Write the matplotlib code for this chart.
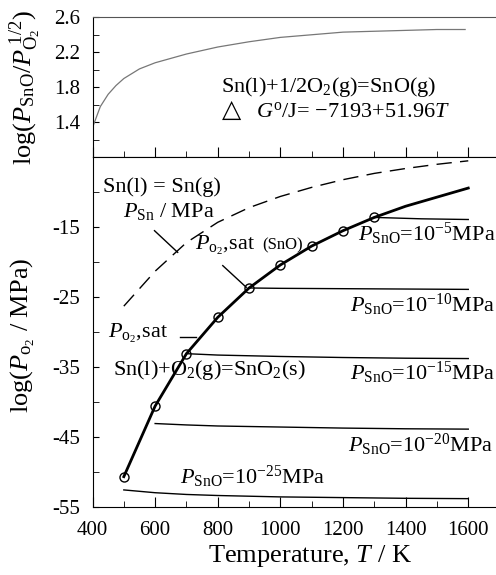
import numpy as np
import matplotlib
matplotlib.use("Agg")
from matplotlib import pyplot as plt
from matplotlib.ticker import MultipleLocator, FixedLocator

plt.rcParams['font.family'] = ['Liberation Serif', 'DejaVu Serif']
plt.rcParams['mathtext.fontset'] = 'custom'
plt.rcParams['mathtext.rm'] = 'Liberation Serif'
plt.rcParams['mathtext.it'] = 'Liberation Serif:italic'
plt.rcParams['mathtext.bf'] = 'Liberation Serif:bold'
plt.rcParams['mathtext.fallback'] = 'stix'
plt.rcParams['axes.unicode_minus'] = False

# top panel: log(P_SnO / P_O2^1/2) vs T
t_top = [400, 425, 450, 475, 500, 550, 600, 700, 800, 900, 1000, 1100, 1200, 1300, 1400, 1500, 1590]
k_top = [1.34, 1.58, 1.72, 1.82, 1.90, 2.01, 2.08, 2.18, 2.26, 2.32, 2.37, 2.40, 2.43, 2.44, 2.45, 2.46, 2.46]

# Sn(l) = Sn(g) vapour pressure (dashed)
t_sn = [500, 600, 700, 800, 900, 1000, 1100, 1200, 1300, 1400, 1500, 1600]
p_sn = [-26.3, -21.3, -17.2, -14.3, -12.2, -10.6, -9.3, -8.2, -7.3, -6.6, -6.0, -5.5]

# Po2,sat curve (bold) and the marked points
t_sat = [500, 600, 700, 800, 900, 1000, 1100, 1200, 1300, 1400, 1500, 1600]
p_sat = [-50.7, -40.6, -33.1, -27.9, -23.7, -20.4, -17.7, -15.5, -13.6, -12.0, -10.7, -9.4]
t_pts = [500, 600, 700, 800, 900, 1000, 1100, 1200, 1300]
p_pts = [-50.7, -40.6, -33.1, -27.9, -23.7, -20.4, -17.7, -15.5, -13.6]

# PSnO isobars
t_iso5 = [1300, 1450, 1600]
p_iso5 = [-13.6, -13.8, -13.9]
t_iso10 = [900, 1000, 1200, 1400, 1600]
p_iso10 = [-23.7, -23.75, -23.8, -23.85, -23.9]
t_iso15 = [700, 800, 1000, 1200, 1400, 1600]
p_iso15 = [-33.1, -33.3, -33.5, -33.65, -33.75, -33.8]
t_iso20 = [600, 700, 800, 1000, 1200, 1400, 1600]
p_iso20 = [-43.1, -43.3, -43.45, -43.6, -43.75, -43.85, -43.9]
t_iso25 = [500, 600, 700, 800, 1000, 1200, 1400, 1600]
p_iso25 = [-52.6, -53.0, -53.25, -53.4, -53.6, -53.7, -53.8, -53.85]

iso_labels = ["-5", "-10", "-15", "-20", "-25"]

fig = plt.figure(figsize=(4.96, 5.75), dpi=100)
ax_top = fig.add_axes([0.1865, 0.7264, 0.8125, 0.2436])
ax = fig.add_axes([0.1865, 0.1188, 0.8125, 0.6076])

# ---- top panel
ax_top.plot(t_top, k_top, color="#777777", lw=0.9)
ax_top.set_xlim(400, 1687)
ax_top.set_ylim(1.0, 2.6)
ax_top.xaxis.set_major_locator(MultipleLocator(200))
ax_top.xaxis.set_minor_locator(MultipleLocator(100))
ax_top.yaxis.set_major_locator(FixedLocator([1.4, 1.8, 2.2, 2.6]))
ax_top.yaxis.set_minor_locator(FixedLocator([1.2, 1.6, 2.0, 2.4]))
ax_top.tick_params(axis="x", which="both", direction="in", labelbottom=False)
ax_top.tick_params(axis="x", which="major", length=7)
ax_top.tick_params(axis="x", which="minor", length=4)
ax_top.tick_params(axis="y", which="both", direction="in", length=4, labelsize=15, pad=9)
ax_top.spines["right"].set_color("#bbbbbb")
ax_top.spines["right"].set_linewidth(0.6)
ax_top.spines["top"].set_color("#555555")

ax_top.text(811, 1.75, r"Sn(l)+1/2O$_2$(g)=SnO(g)", fontsize=16, va="baseline")
ax_top.text(812, 1.464, "△", fontsize=18, va="baseline", family=["DejaVu Sans"])
ax_top.text(922, 1.464, r"$G^{\rm o}$/J= −7193+51.96$T$", fontsize=16, va="baseline")

# ---- bottom panel
ax.plot(t_sn, p_sn, color="black", lw=1.0, dashes=(11, 6))
ax.plot(t_sat, p_sat, color="black", lw=2.0)
ax.plot(t_pts, p_pts, "o", ms=6.5, mfc="none", mec="black", mew=1.0)
for tt, pp in [(t_iso5, p_iso5), (t_iso10, p_iso10), (t_iso15, p_iso15),
               (t_iso20, p_iso20), (t_iso25, p_iso25)]:
    ax.plot(tt, pp, color="black", lw=1.0)

ax.set_xlim(400, 1687)
ax.set_ylim(-55, -5)
ax.set_xticks([400, 600, 800, 1000, 1200, 1400, 1600])
ax.xaxis.set_minor_locator(MultipleLocator(100))
ax.set_yticks([-55, -45, -35, -25, -15])
ax.yaxis.set_minor_locator(FixedLocator([-50, -40, -30, -20, -10, -5]))
ax.tick_params(axis="x", which="both", direction="in", labelsize=15, pad=10)
ax.tick_params(axis="x", which="major", length=7)
ax.tick_params(axis="x", which="minor", length=4)
ax.tick_params(axis="y", which="both", direction="in", length=4, labelsize=15, pad=9)
ax.spines["right"].set_visible(False)

# labels in the plot
ax.text(433, -10.0, "Sn(l) = Sn(g)", fontsize=16, va="baseline")
ax.text(497, -13.6, r"$P_{\rm Sn}$ / MPa", fontsize=16, va="baseline")
ax.plot([598, 672], [-15.5, -18.6], color="black", lw=1.0)
ax.text(726, -18.2, r"$P_{{\rm o}_2}$,sat", fontsize=16, va="baseline")
ax.text(942, -18.2, "(SnO)", fontsize=12, va="baseline")
ax.plot([816, 891], [-20.5, -23.6], color="black", lw=1.0)
ax.text(449, -30.9, r"$P_{{\rm o}_2}$,sat", fontsize=16, va="baseline")
ax.plot([678, 729], [-30.7, -30.7], color="black", lw=1.0)
ax.text(465, -36.2, r"Sn(l)+O$_2$(g)=SnO$_2$(s)", fontsize=16, va="baseline")

label_pos = [(1248, -16.9), (1221, -27.1), (1221, -36.9), (1216, -47.1), (678, -51.7)]
for lab, (tx, ty) in zip(iso_labels, label_pos):
    ax.text(tx, ty, r"$P_{\rm SnO}$=10$^{" + lab + r"}$MPa", fontsize=16, va="baseline")

fig.text(0.625, 0.023, r"Temperature, $T$ / K", fontsize=19, ha="center", va="baseline")
fig.text(0.05, 0.848, r"log($P_{\rm SnO}/P_{{\rm O}_2}^{\;1/2}$)", fontsize=19,
         rotation=90, ha="center", va="center")
fig.text(0.046, 0.417, r"log($P_{{\rm o}_2}$ / MPa)", fontsize=19,
         rotation=90, ha="center", va="center")

fig.savefig("out.png", dpi=100)
